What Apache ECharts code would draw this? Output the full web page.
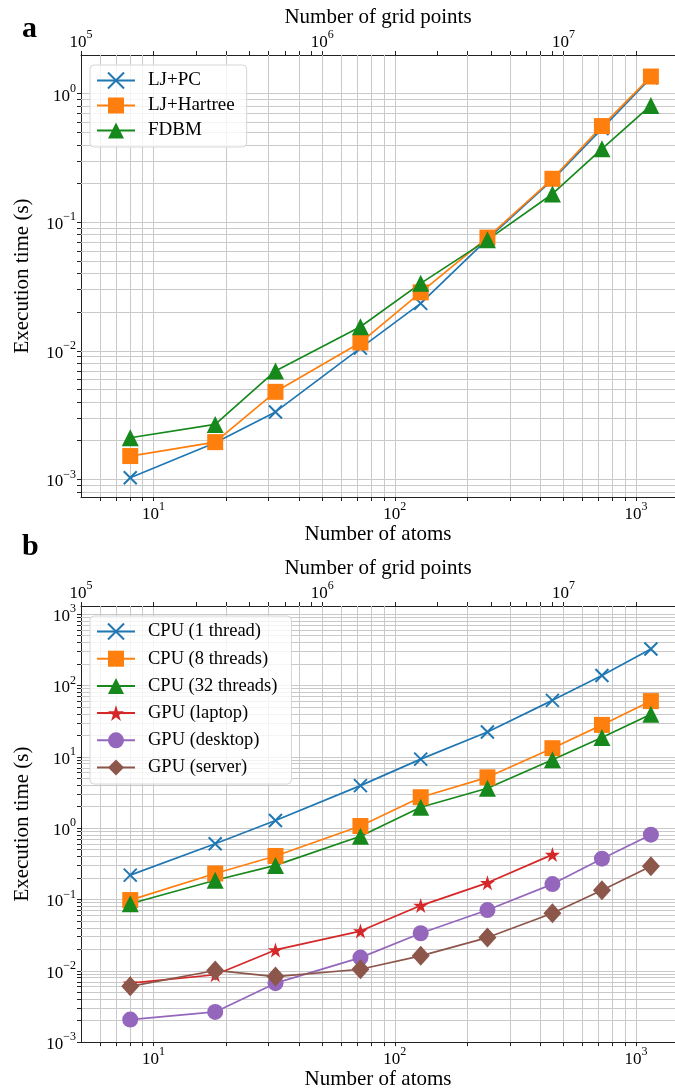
<!DOCTYPE html>
<html><head><meta charset="utf-8">
<script src="https://cdn.jsdelivr.net/npm/echarts@6/dist/echarts.min.js"></script>
<style>html,body{margin:0;padding:0;background:#fff}#c{width:675px;height:1091px}</style>
</head><body><div id="c"></div>
<script>
// ---- data ----
const atoms = [8, 18, 32, 72, 128, 242, 450, 722, 1152];
// panel a
const ljPC      = [1.03e-3, 1.93e-3, 3.35e-3, 1.05e-2, 2.34e-2, 7.4e-2, 0.214, 0.535, 1.33];
const ljHartree = [1.52e-3, 1.95e-3, 4.8e-3, 1.16e-2, 2.85e-2, 7.6e-2, 0.218, 0.56, 1.36];
const fdbm      = [2.11e-3, 2.68e-3, 6.98e-3, 1.54e-2, 3.35e-2, 7.3e-2, 0.166, 0.373, 0.81];
// panel b
const cpu1      = [0.219, 0.604, 1.28, 3.94, 9.28, 22.3, 61.8, 138, 325];
const cpu8      = [0.098, 0.231, 0.407, 1.07, 2.71, 5.15, 13.2, 28.0, 60.4];
const cpu32     = [0.087, 0.186, 0.30, 0.77, 1.96, 3.62, 9.08, 18.6, 39.4];
const gpuLaptop = [6.7e-3, 8.8e-3, 1.96e-2, 3.6e-2, 8.2e-2, 0.171, 0.425];
const gpuDesktop= [2.07e-3, 2.65e-3, 6.7e-3, 1.53e-2, 3.36e-2, 7.1e-2, 0.164, 0.373, 0.81];
const gpuServer = [6.05e-3, 1.01e-2, 8.3e-3, 1.05e-2, 1.62e-2, 2.92e-2, 6.4e-2, 0.135, 0.292];

const namesA = ['LJ+PC', 'LJ+Hartree', 'FDBM'];
const namesB = ['CPU (1 thread)', 'CPU (8 threads)', 'CPU (32 threads)', 'GPU (laptop)', 'GPU (desktop)', 'GPU (server)'];

// ---- axes / ticks ----
const xRange = [5, 1450];
const topRange = [1e5, 2.9e7];
const yRangeA = [7.3e-4, 2.0];
const yRangeB = [1e-3, 1300];
const decadesX = [1, 10, 100, 1000];
const decadesTop = [1e5, 1e6, 1e7];
const decadesYa = [1e-4, 1e-3, 1e-2, 1e-1, 1];
const decadesYb = [1e-3, 1e-2, 1e-1, 1, 10, 100, 1000];
const minorMult = [2, 3, 4, 5, 6, 7, 8, 9];

const FF = 'Liberation Serif';
const colors = {blue:'#1f77b4', orange:'#ff7f0e', green:'#17891c', red:'#d62728', purple:'#9467bd', brown:'#8c564b'};
const GRID_C = '#c9c9c9';

function inRange(v, r){ return v > r[0]*1.0001 && v < r[1]*0.9999; }
function minors(decs, r){ const out=[]; decs.forEach(d=>minorMult.forEach(m=>{const v=d*m; if(inRange(v,r)) out.push(v);})); return out; }
function majors(decs, r){ return decs.filter(d=>d>=r[0]*0.9999 && d<=r[1]*1.0001); }

function pow10Label(v){
  const e = Math.log10(v), r = Math.round(e);
  if (Math.abs(e - r) > 1e-6) return '';
  return '{b|10}{s|' + (r < 0 ? '\u2212' + (-r) : r) + '}';
}
const rich = {
  b: {fontSize: 17, fontFamily: FF, color: '#000', lineHeight: 22, verticalAlign: 'bottom'},
  s: {fontSize: 12, fontFamily: FF, color: '#000', lineHeight: 13, verticalAlign: 'top'}
};
const axisLine = {show: true, lineStyle: {color: '#222', width: 1}};

function xBottom(gi, name, gap){
  return {type:'log', gridIndex:gi, position:'bottom', min:xRange[0], max:xRange[1],
    name:name, nameLocation:'middle', nameGap:gap,
    nameTextStyle:{fontFamily:FF, fontSize:21, color:'#000'},
    axisLine: axisLine,
    axisTick:{show:true, length:4, lineStyle:{color:'#222'}, customValues: majors(decadesX,xRange).concat(minors(decadesX,xRange))},
    axisLabel:{formatter:pow10Label, rich:rich, margin:4, interval:0, showMinLabel:false, showMaxLabel:false},
    splitLine:{show:true, lineStyle:{color:GRID_C, width:1}}};
}
function xTop(gi, name, gap){
  return {type:'log', gridIndex:gi, position:'top', min:topRange[0], max:topRange[1],
    name:name, nameLocation:'middle', nameGap:gap,
    nameTextStyle:{fontFamily:FF, fontSize:21, color:'#000'},
    axisLine: axisLine,
    axisTick:{show:true, length:4, lineStyle:{color:'#222'}, customValues: majors(decadesTop,topRange).concat(minors(decadesTop,topRange))},
    axisLabel:{formatter:pow10Label, rich:rich, margin:4, interval:0, showMaxLabel:false},
    splitLine:{show:false}};
}
function yAx(gi, r, decs){
  return {type:'log', gridIndex:gi, min:r[0], max:r[1],
    name:'Execution time (s)', nameLocation:'middle', nameGap:48,
    nameTextStyle:{fontFamily:FF, fontSize:21, color:'#000'},
    axisLine: axisLine,
    axisTick:{show:true, length:4, lineStyle:{color:'#222'}, customValues: majors(decs,r).concat(minors(decs,r))},
    axisLabel:{formatter:pow10Label, rich:rich, margin:5, interval:0},
    splitLine:{show:true, lineStyle:{color:GRID_C, width:1}}};
}

function gridLineSeries(xi, yi, xr, yr, ydecs){
  const d = [];
  minors(decadesX, xr).forEach(v=>d.push({xAxis:v}));
  minors(ydecs, yr).forEach(v=>d.push({yAxis:v}));
  return {type:'line', xAxisIndex:xi, yAxisIndex:yi, data:[[10, 0.01]], symbol:'none', silent:true,
    lineStyle:{opacity:0}, z:1, animation:false,
    markLine:{silent:true, symbol:'none', z:1, animation:false, label:{show:false},
      lineStyle:{color:GRID_C, width:1, type:'solid'}, emphasis:{disabled:true}, data:d}};
}

const xPath = 'path://M0,0L10,10M10,0L0,10';
const starPath = 'path://M50,0L61.2,34.5L97.6,34.5L68.2,55.9L79.4,90.5L50,69.1L20.6,90.5L31.8,55.9L2.4,34.5L38.8,34.5Z';

function mk(name, xs, ys, xi, yi, color, symbol, size, extraItem){
  return {type:'line', name:name, xAxisIndex:xi, yAxisIndex:yi, z:3,
    data: ys.map((v,i)=>[xs[i], v]),
    symbol:symbol, symbolSize:size, showSymbol:true,
    lineStyle:{color:color, width:1.7},
    itemStyle:Object.assign({color:color, opacity:1}, extraItem||{}),
    emphasis:{disabled:true}, animation:false};
}
const xItem = {borderColor: colors.blue, borderWidth: 2};

const series = [
  gridLineSeries(0, 0, xRange, yRangeA, decadesYa),
  gridLineSeries(2, 1, xRange, yRangeB, decadesYb),
  mk(namesA[0], atoms, ljPC, 0, 0, colors.blue, xPath, 13, xItem),
  mk(namesA[1], atoms, ljHartree, 0, 0, colors.orange, 'rect', 16),
  mk(namesA[2], atoms, fdbm, 0, 0, colors.green, 'triangle', 17),
  mk(namesB[0], atoms, cpu1, 2, 1, colors.blue, xPath, 13, xItem),
  mk(namesB[1], atoms, cpu8, 2, 1, colors.orange, 'rect', 16),
  mk(namesB[2], atoms, cpu32, 2, 1, colors.green, 'triangle', 17),
  mk(namesB[3], atoms.slice(0, gpuLaptop.length), gpuLaptop, 2, 1, colors.red, starPath, 15),
  mk(namesB[4], atoms, gpuDesktop, 2, 1, colors.purple, 'circle', 16),
  mk(namesB[5], atoms, gpuServer, 2, 1, colors.brown, 'diamond', [18, 20])
];

const legendCommon = {orient:'vertical', itemWidth:38, itemHeight:20,
  backgroundColor:'rgba(255,255,255,0.8)', borderColor:'#d6d6d6', borderWidth:1, borderRadius:4,
  selectedMode:false, inactiveColor:'#ccc'};

const option = {
  animation:false,
  backgroundColor:'#fff',
  grid:[{left:81, top:55, width:595, height:442}, {left:81, top:606, width:595, height:441}],
  xAxis:[xBottom(0,'Number of atoms',20), xTop(0,'Number of grid points',24), xBottom(1,'Number of atoms',18), xTop(1,'Number of grid points',24)],
  yAxis:[yAx(0, yRangeA, decadesYa), yAx(1, yRangeB, decadesYb)],
  legend:[
    Object.assign({}, legendCommon, {data:namesA, left:90, top:65, itemGap:6, padding:[6,12,7,6],
      textStyle:{fontFamily:FF, fontSize:19, color:'#000', padding:[0,0,0,8]}}),
    Object.assign({}, legendCommon, {data:namesB, left:90, top:616, itemGap:8.2, padding:[6,14,7,6],
      textStyle:{fontFamily:FF, fontSize:18.5, color:'#000', padding:[0,0,0,8]}})
  ],
  graphic:[
    {type:'text', left:22, top:14, style:{text:'a', font:'bold 30px "Liberation Serif"', fill:'#000'}},
    {type:'text', left:22, top:532, style:{text:'b', font:'bold 30px "Liberation Serif"', fill:'#000'}}
  ],
  series: series
};
const chart = echarts.init(document.getElementById('c'), null, {renderer:'canvas'});
chart.setOption(option);
</script></body></html>
